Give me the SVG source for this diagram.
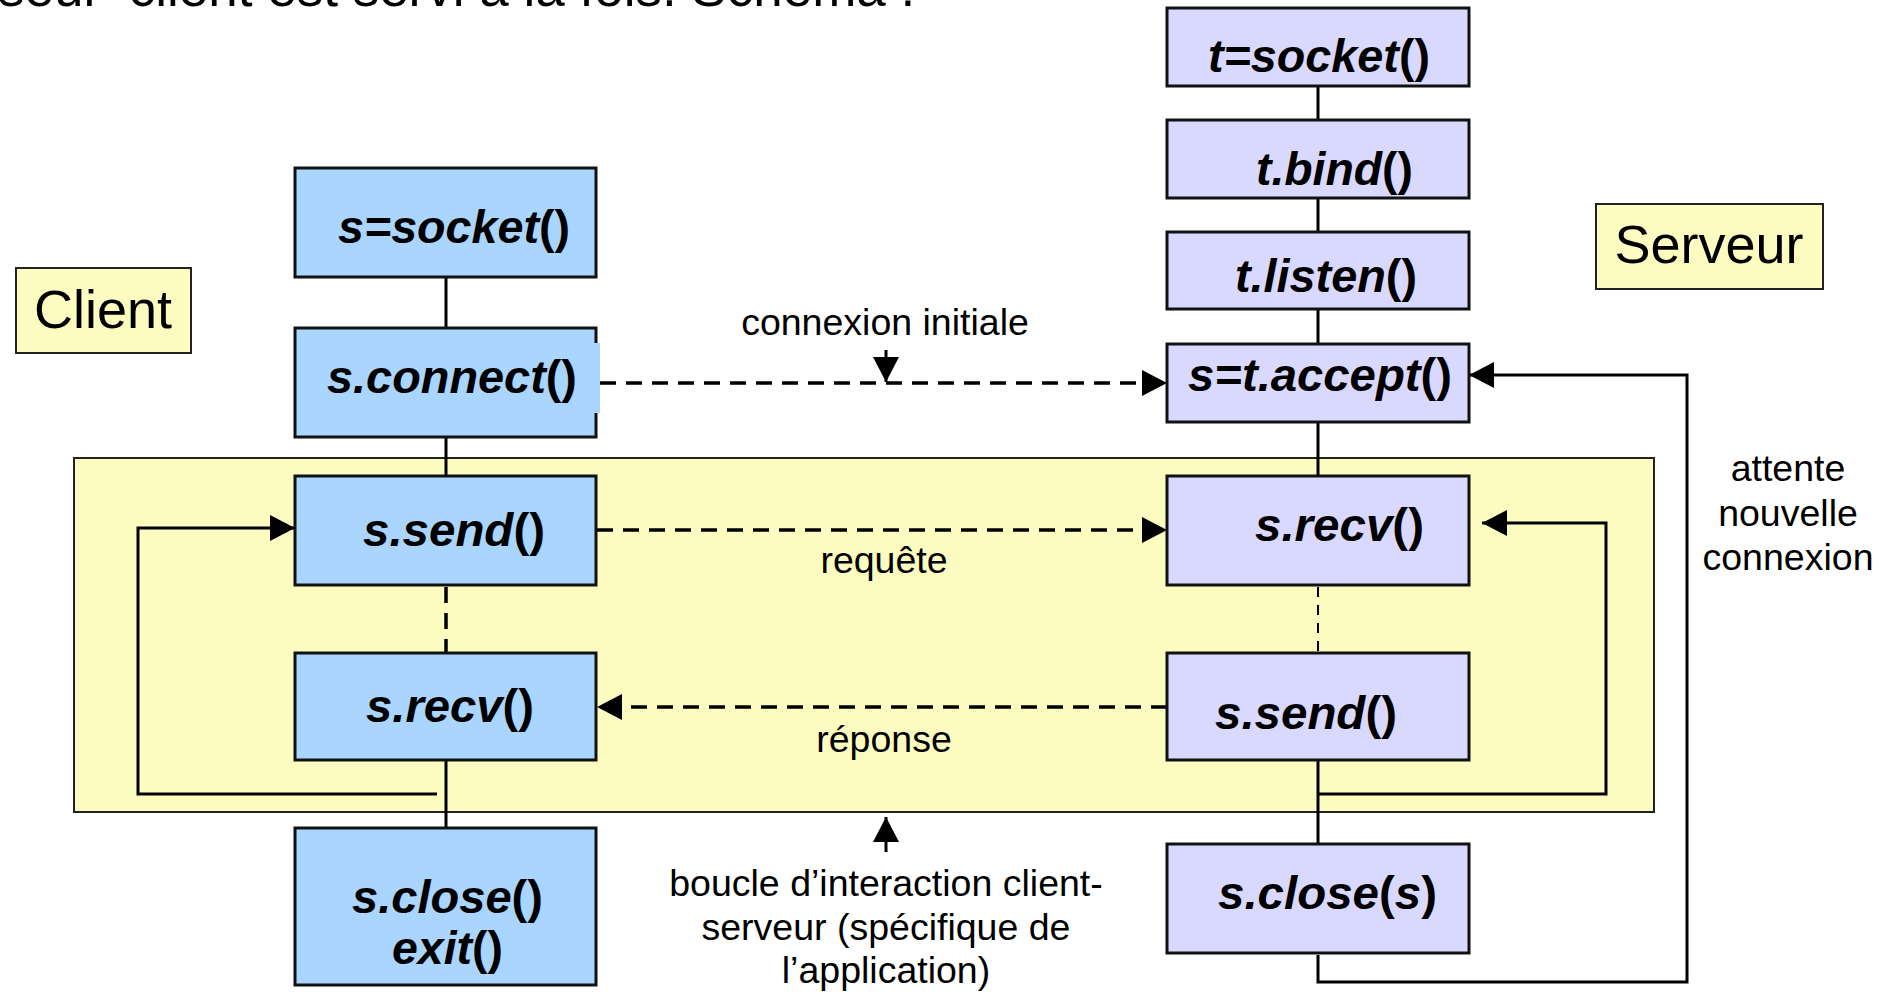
<svg xmlns="http://www.w3.org/2000/svg" width="1895" height="992" viewBox="0 0 1895 992">
<defs>
<style>
.cbox{fill:#a9d5ff;stroke:#111;stroke-width:3}
.sbox{fill:#d9d9ff;stroke:#111;stroke-width:3}
.ybox{fill:#fcfcc0;stroke:#222;stroke-width:2}
.nl{font-family:"Liberation Sans",Arial,sans-serif;font-weight:bold;font-style:italic;font-size:47px;fill:#000}
.up{font-style:normal}
.lb{font-family:"Liberation Sans",Arial,sans-serif;font-size:37.5px;fill:#000;text-anchor:middle}
.big{font-family:"Liberation Sans",Arial,sans-serif;font-size:54px;fill:#000;text-anchor:middle}
.solid{fill:none;stroke:#000;stroke-width:3}
.dash{fill:none;stroke:#000;stroke-width:3.5;stroke-dasharray:16 10}
.dash2{fill:none;stroke:#000;stroke-width:2;stroke-dasharray:10 8}
</style>
<marker id="ah" markerUnits="userSpaceOnUse" markerWidth="26" markerHeight="26" refX="25" refY="13" orient="auto">
<path d="M0,0 L25,13 L0,26 z" fill="#000"/>
</marker>
</defs>
<rect width="1895" height="992" fill="#fff"/>
<text x="-2" y="6" font-family="Liberation Sans,Arial,sans-serif" font-size="53" fill="#000">seul" client est servi à la fois. Schéma :</text>

<g id="loop-area"><rect class="ybox" x="74" y="458" width="1580" height="354"/></g>

<g id="connectors">
<line class="solid" x1="446" y1="278" x2="446" y2="328"/>
<line class="solid" x1="446" y1="437" x2="446" y2="476"/>
<line class="solid" x1="446" y1="760" x2="446" y2="828"/>
<line class="dash" x1="446" y1="587" x2="446" y2="653"/>
<line class="solid" x1="1318" y1="86" x2="1318" y2="120"/>
<line class="solid" x1="1318" y1="198" x2="1318" y2="232"/>
<line class="solid" x1="1318" y1="309" x2="1318" y2="344"/>
<line class="solid" x1="1318" y1="422" x2="1318" y2="476"/>
<line class="solid" x1="1318" y1="760" x2="1318" y2="844"/>
<line class="dash2" x1="1318" y1="587" x2="1318" y2="653"/>
<line class="dash" x1="600" y1="383" x2="1167" y2="383" marker-end="url(#ah)"/>
<line class="solid" x1="886" y1="350" x2="886" y2="382" marker-end="url(#ah)"/>
<line class="dash" x1="597" y1="530" x2="1167" y2="530" marker-end="url(#ah)"/>
<line class="dash" x1="1167" y1="707" x2="597" y2="707" marker-end="url(#ah)"/>
<line class="solid" x1="886" y1="852" x2="886" y2="817" marker-end="url(#ah)"/>
<path class="solid" d="M437,794 H138 V528 H295" marker-end="url(#ah)"/>
<path class="solid" d="M1318,794 H1606 V523 H1482" marker-end="url(#ah)"/>
<path class="solid" d="M1318,955 V982 H1687 V375 H1469" marker-end="url(#ah)"/>
</g>

<g id="client-label"><rect class="ybox" x="16" y="268" width="175" height="85"/><text class="big" x="103" y="328">Client</text></g>
<g id="server-label"><rect class="ybox" x="1596" y="204" width="227" height="85"/><text class="big" x="1709" y="263" font-size="53">Serveur</text></g>

<g id="c-socket"><rect class="cbox" x="295" y="168" width="301" height="109"/><text class="nl" x="338" y="243" textLength="232" lengthAdjust="spacingAndGlyphs">s=socket<tspan class="up">()</tspan></text></g>
<g id="c-connect"><rect class="cbox" x="295" y="328" width="301" height="109"/><rect x="593" y="343" width="7" height="70" fill="#a9d5ff"/><text class="nl" x="327" y="393" textLength="250" lengthAdjust="spacingAndGlyphs">s.connect<tspan class="up">()</tspan></text></g>
<g id="c-send"><rect class="cbox" x="295" y="476" width="301" height="109"/><text class="nl" x="363" y="546" textLength="182" lengthAdjust="spacingAndGlyphs">s.send<tspan class="up">()</tspan></text></g>
<g id="c-recv"><rect class="cbox" x="295" y="653" width="301" height="107"/><text class="nl" x="366" y="722" textLength="168" lengthAdjust="spacingAndGlyphs">s.recv<tspan class="up">()</tspan></text></g>
<g id="c-close"><rect class="cbox" x="295" y="828" width="301" height="157"/><text class="nl" x="352" y="913" textLength="191" lengthAdjust="spacingAndGlyphs">s.close<tspan class="up">()</tspan></text><text class="nl" x="392" y="964" textLength="111" lengthAdjust="spacingAndGlyphs">exit<tspan class="up">()</tspan></text></g>

<g id="s-socket"><rect class="sbox" x="1167" y="8" width="302" height="78"/><text class="nl" x="1208" y="72" textLength="222" lengthAdjust="spacingAndGlyphs">t=socket<tspan class="up">()</tspan></text></g>
<g id="s-bind"><rect class="sbox" x="1167" y="120" width="302" height="78"/><text class="nl" x="1256" y="185" textLength="157" lengthAdjust="spacingAndGlyphs">t.bind<tspan class="up">()</tspan></text></g>
<g id="s-listen"><rect class="sbox" x="1167" y="232" width="302" height="77"/><text class="nl" x="1235" y="292" textLength="182" lengthAdjust="spacingAndGlyphs">t.listen<tspan class="up">()</tspan></text></g>
<g id="s-accept"><rect class="sbox" x="1167" y="344" width="302" height="78"/><text class="nl" x="1188" y="391" textLength="264" lengthAdjust="spacingAndGlyphs">s=t.accept<tspan class="up">()</tspan></text></g>
<g id="s-recv"><rect class="sbox" x="1167" y="476" width="302" height="109"/><text class="nl" x="1255" y="541" textLength="169" lengthAdjust="spacingAndGlyphs">s.recv<tspan class="up">()</tspan></text></g>
<g id="s-send"><rect class="sbox" x="1167" y="653" width="302" height="107"/><text class="nl" x="1215" y="729" textLength="182" lengthAdjust="spacingAndGlyphs">s.send<tspan class="up">()</tspan></text></g>
<g id="s-close"><rect class="sbox" x="1167" y="844" width="302" height="109"/><text class="nl" x="1218" y="909" textLength="219" lengthAdjust="spacingAndGlyphs">s.close<tspan class="up">(</tspan>s<tspan class="up">)</tspan></text></g>

<g id="labels">
<text class="lb" x="885" y="335">connexion initiale</text>
<text class="lb" x="884" y="573">requête</text>
<text class="lb" x="884" y="752">réponse</text>
<text class="lb" x="886" y="896">boucle d’interaction client-</text>
<text class="lb" x="886" y="940">serveur (spécifique de</text>
<text class="lb" x="886" y="983">l’application)</text>
<text class="lb" x="1788" y="481">attente</text>
<text class="lb" x="1788" y="526">nouvelle</text>
<text class="lb" x="1788" y="570">connexion</text>
</g>
</svg>
